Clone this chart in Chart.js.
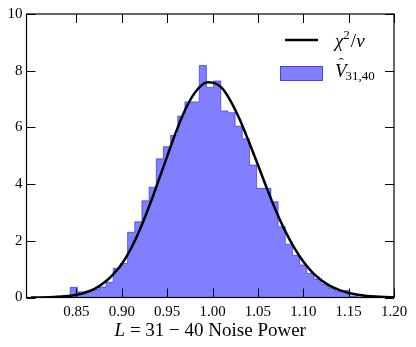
<!DOCTYPE html>
<html>
<head>
<meta charset="utf-8">
<script src="https://cdn.jsdelivr.net/npm/chart.js@4"></script>
<style>
  html, body { margin: 0; padding: 0; background: #fff; }
  #wrap { width: 416px; height: 347px; }
</style>
</head>
<body>
<div id="wrap"><canvas id="histChart"></canvas></div>
<script>
// histogram bin edges (47) and normalised heights (46 bins)
var binEdges = [0.8274, 0.8353, 0.8432, 0.8511, 0.8590, 0.8669, 0.8748, 0.8827, 0.8906, 0.8985,
    0.9064, 0.9143, 0.9222, 0.9301, 0.9380, 0.9459, 0.9538, 0.9617, 0.9696, 0.9775,
    0.9854, 0.9933, 1.0012, 1.0091, 1.0170, 1.0249, 1.0328, 1.0407, 1.0486, 1.0565,
    1.0644, 1.0723, 1.0802, 1.0881, 1.0960, 1.1039, 1.1118, 1.1197, 1.1276, 1.1355,
    1.1434, 1.1513, 1.1592, 1.1671, 1.1750, 1.1829, 1.1908];
var binHeights = [0.05, 0.08, 0.36, 0.20, 0.22, 0.28, 0.37, 0.54, 1.03, 1.20,
    2.30, 2.67, 3.41, 3.89, 4.89, 5.32, 5.72, 6.40, 6.90, 6.90,
    8.18, 7.41, 7.64, 6.58, 6.52, 6.04, 5.60, 4.67, 3.85, 3.85,
    3.38, 2.50, 1.88, 1.48, 1.15, 0.85, 0.65, 0.48, 0.34, 0.22,
    0.25, 0.05, 0.02, 0.02, 0.02, 0.02];

// chi^2/nu curve
var curveX = [0.80, 0.81, 0.82, 0.83, 0.84, 0.85, 0.86, 0.87, 0.88, 0.89,
    0.90, 0.91, 0.92, 0.93, 0.94, 0.95, 0.96, 0.97, 0.98, 0.99, 0.995,
    1.00, 1.01, 1.02, 1.03, 1.04, 1.05, 1.06, 1.07, 1.08, 1.09,
    1.10, 1.11, 1.12, 1.13, 1.14, 1.15, 1.16, 1.17, 1.18, 1.19, 1.20];
var curveY = [0.001, 0.004, 0.010, 0.023, 0.048, 0.095, 0.176, 0.306, 0.508, 0.80,
    1.18, 1.72, 2.40, 3.20, 4.08, 4.98, 5.86, 6.63, 7.20, 7.54, 7.59,
    7.58, 7.40, 6.93, 6.28, 5.50, 4.68, 3.84, 3.05, 2.35, 1.76,
    1.27, 0.89, 0.61, 0.40, 0.26, 0.16, 0.098, 0.057, 0.032, 0.018, 0.009];

var xTicks = [0.85, 0.90, 0.95, 1.00, 1.05, 1.10, 1.15, 1.20];
var yTicks = [0, 2, 4, 6, 8, 10];

var serif = '"Liberation Serif", "DejaVu Serif", serif';

// step outline: start and end on the baseline
var histPoints = [{x: binEdges[0], y: 0}];
binHeights.forEach(function(h, i) {
    histPoints.push({x: binEdges[i], y: h});
});
histPoints.push({x: binEdges[binEdges.length - 1], y: 0});

var curvePoints = curveX.map(function(x, i) { return {x: x, y: curveY[i]}; });

var framePlugin = {
    id: 'frame',
    afterDraw: function(chart) {
        var ctx = chart.ctx;
        var a = chart.chartArea;
        var xs = chart.scales.x, ys = chart.scales.y;
        var tl = 9;
        ctx.save();
        ctx.strokeStyle = '#000';
        ctx.lineWidth = 1;
        ctx.beginPath();
        xTicks.forEach(function(v) {
            var px = Math.round(xs.getPixelForValue(v)) + 0.5;
            ctx.moveTo(px, a.bottom); ctx.lineTo(px, a.bottom - tl);
            ctx.moveTo(px, a.top); ctx.lineTo(px, a.top + tl);
        });
        yTicks.forEach(function(v) {
            var py = Math.round(ys.getPixelForValue(v)) + 0.5;
            ctx.moveTo(a.left, py); ctx.lineTo(a.left + tl, py);
            ctx.moveTo(a.right, py); ctx.lineTo(a.right - tl, py);
        });
        ctx.stroke();
        ctx.lineWidth = 1.2;
        ctx.strokeRect(a.left, a.top, a.right - a.left, a.bottom - a.top);

        // legend
        ctx.fillStyle = '#000';
        ctx.textBaseline = 'alphabetic';
        ctx.textAlign = 'left';
        ctx.lineWidth = 2.5;
        ctx.beginPath();
        ctx.moveTo(285, 40); ctx.lineTo(318, 40);
        ctx.stroke();
        var tx = 335;
        ctx.font = 'italic 19px ' + serif;
        ctx.fillText('χ', tx, 47);
        tx += ctx.measureText('χ').width;
        ctx.font = '13px ' + serif;
        ctx.fillText('2', tx, 39);
        tx += ctx.measureText('2').width + 1;
        ctx.font = '19px ' + serif;
        ctx.fillText('/', tx, 47);
        tx += ctx.measureText('/').width;
        ctx.font = 'italic 19px ' + serif;
        ctx.fillText('ν', tx, 47);

        ctx.fillStyle = 'rgba(0,0,255,0.5)';
        ctx.strokeStyle = 'rgba(0,0,255,0.5)';
        ctx.lineWidth = 1;
        ctx.fillRect(280, 66, 43, 15);
        ctx.strokeRect(280.5, 66.5, 42, 14);
        ctx.fillStyle = '#000';
        tx = 335;
        ctx.font = 'italic 19px ' + serif;
        ctx.fillText('V', tx, 77);
        var vw = ctx.measureText('V').width;
        ctx.font = '15px ' + serif;
        ctx.fillText('ˆ', tx + vw / 2 - 2, 68);
        tx += vw - 1;
        ctx.font = '13px ' + serif;
        ctx.fillText('31,40', tx, 80);

        // axis title
        ctx.font = 'italic 19px ' + serif;
        var p1 = 'L';
        var w1 = ctx.measureText(p1).width;
        ctx.font = '19px ' + serif;
        var p2 = ' = 31 − 40 Noise Power';
        var w2 = ctx.measureText(p2).width;
        var sx = (a.left + a.right) / 2 - (w1 + w2) / 2;
        ctx.font = 'italic 19px ' + serif;
        ctx.fillText(p1, sx, 336);
        ctx.font = '19px ' + serif;
        ctx.fillText(p2, sx + w1, 336);
        ctx.restore();
    }
};

var ctx = document.getElementById('histChart').getContext('2d');
var histChart = new Chart(ctx, {
    type: 'line',
    data: {
        datasets: [{
            label: 'chi2',
            data: curvePoints,
            borderColor: '#000',
            borderWidth: 2.5,
            pointRadius: 0,
            fill: false,
            cubicInterpolationMode: 'monotone',
            order: 1
        }, {
            label: 'V31,40',
            data: histPoints,
            stepped: 'before',
            borderColor: 'rgba(0,0,255,0.5)',
            borderWidth: 1,
            backgroundColor: 'rgba(0,0,255,0.5)',
            pointRadius: 0,
            fill: 'origin',
            order: 2
        }]
    },
    options: {
        responsive: true,
        maintainAspectRatio: false,
        animation: false,
        layout: {
            padding: {top: 14, right: 22, left: 0, bottom: 0}
        },
        plugins: {
            legend: {display: false},
            tooltip: {enabled: false}
        },
        scales: {
            x: {
                type: 'linear',
                min: 0.795,
                max: 1.20,
                afterBuildTicks: function(scale) {
                    scale.ticks = xTicks.map(function(v) { return {value: v}; });
                },
                afterFit: function(scale) { scale.height = 49.5; },
                grid: {display: false, drawTicks: false},
                border: {display: false},
                ticks: {
                    padding: 6,
                    color: '#000',
                    maxRotation: 0,
                    font: {family: serif, size: 15},
                    callback: function(v) { return Number(v).toFixed(2); }
                }
            },
            y: {
                min: 0,
                max: 10,
                afterBuildTicks: function(scale) {
                    scale.ticks = yTicks.map(function(v) { return {value: v}; });
                },
                afterFit: function(scale) { scale.width = 26.5; },
                grid: {display: false, drawTicks: false},
                border: {display: false},
                ticks: {
                    padding: 4,
                    color: '#000',
                    font: {family: serif, size: 15},
                    callback: function(v) { return String(v); }
                }
            }
        }
    },
    plugins: [framePlugin]
});
</script>
</body>
</html>
